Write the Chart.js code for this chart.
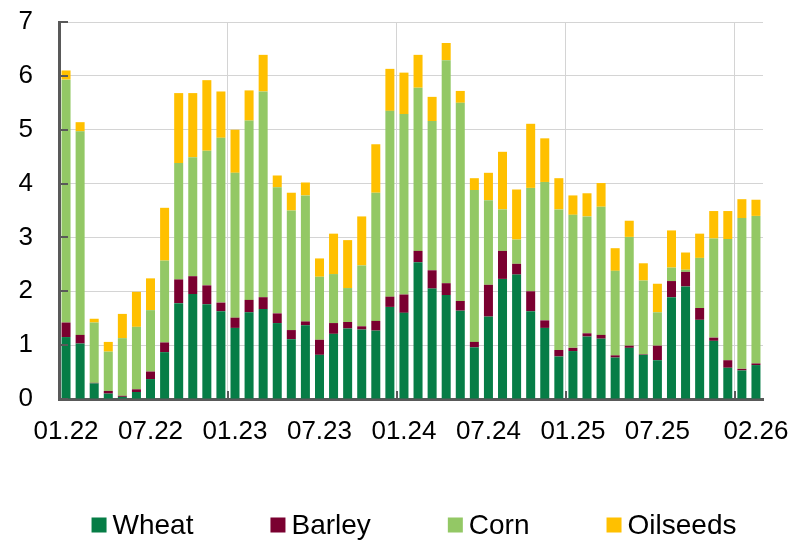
<!DOCTYPE html>
<html>
<head>
<meta charset="utf-8">
<script src="https://cdn.jsdelivr.net/npm/chart.js@4/dist/chart.umd.min.js"></script>
<style>
html,body{margin:0;padding:0;background:#ffffff;}
#wrap{width:794px;height:540px;position:relative;}
</style>
</head>
<body>
<div id="wrap"><canvas id="c" width="794" height="540"></canvas></div>
<script>
// ---- Data ----
const categories = [
  '01.22','02.22','03.22','04.22','05.22','06.22','07.22','08.22','09.22','10.22','11.22','12.22',
  '01.23','02.23','03.23','04.23','05.23','06.23','07.23','08.23','09.23','10.23','11.23','12.23',
  '01.24','02.24','03.24','04.24','05.24','06.24','07.24','08.24','09.24','10.24','11.24','12.24',
  '01.25','02.25','03.25','04.25','05.25','06.25','07.25','08.25','09.25','10.25','11.25','12.25',
  '01.26','02.26'
];
const tickLabels = ['01.22','07.22','01.23','07.23','01.24','07.24','01.25','07.25','02.26'];

const wheat = [
  1.15,1.03,0.29,0.10,0.04,0.13,0.37,0.87,1.78,1.95,1.76,1.63,
  1.32,1.61,1.67,1.41,1.11,1.37,0.82,1.21,1.31,1.29,1.27,1.71,
  1.60,2.54,2.05,1.93,1.64,0.96,1.53,2.23,2.31,1.63,1.32,0.79,
  0.89,1.16,1.12,0.77,0.95,0.82,0.72,1.89,2.09,1.47,1.08,0.58,
  0.53,0.63
];
const barley = [
  0.27,0.16,0.01,0.05,0.02,0.05,0.14,0.18,0.44,0.33,0.35,0.16,
  0.19,0.23,0.22,0.18,0.17,0.07,0.28,0.20,0.12,0.06,0.18,0.19,
  0.34,0.21,0.34,0.22,0.18,0.10,0.59,0.52,0.20,0.37,0.14,0.12,
  0.06,0.06,0.07,0.04,0.04,0.01,0.27,0.30,0.27,0.22,0.06,0.14,
  0.03,0.03
];
const corn = [
  4.51,3.78,1.12,0.73,1.07,1.16,1.14,1.52,2.16,2.21,2.50,3.06,
  2.69,3.33,3.82,2.34,2.22,2.34,1.17,0.91,0.63,1.13,2.38,3.45,
  3.35,3.03,2.77,4.14,3.68,2.82,1.57,0.77,0.45,1.92,2.57,2.61,
  2.47,2.17,2.38,1.57,2.02,1.37,0.62,0.25,0.04,0.93,1.84,2.25,
  2.80,2.74
];
const oilseeds = [
  0.17,0.17,0.07,0.18,0.45,0.65,0.59,0.98,1.30,1.19,1.31,0.86,
  0.80,0.56,0.68,0.22,0.33,0.24,0.34,0.75,0.89,0.91,0.90,0.78,
  0.77,0.61,0.45,0.32,0.22,0.22,0.51,1.07,0.93,1.19,0.81,0.58,
  0.36,0.43,0.44,0.42,0.30,0.32,0.53,0.69,0.32,0.45,0.51,0.52,
  0.35,0.30
];

const seriesNames = ['Wheat','Barley','Corn','Oilseeds'];
const seriesColors = ['#067D46','#7A0030','#93C865','#FFC000'];
const FONT = '"Liberation Sans", Arial, sans-serif';

const decor = {
  id: 'decor',
  afterDraw(chart) {
    const {ctx, chartArea, scales} = chart;
    const x = scales.x, y = scales.y;
    ctx.save();
    // inward tick marks on the y axis
    ctx.strokeStyle = '#595959';
    ctx.lineWidth = 2;
    y.ticks.forEach(t => {
      const py = Math.round(y.getPixelForValue(t.value));
      ctx.beginPath();
      ctx.moveTo(chartArea.left, py);
      ctx.lineTo(chartArea.left + 9, py);
      ctx.stroke();
    });
    // small tick marks at year boundaries on the x axis
    const half = (x.getPixelForTick(1) - x.getPixelForTick(0)) / 2;
    categories.forEach((c, i) => {
      if (i > 0 && i % 12 === 0) {
        const px = Math.round(x.getPixelForTick(i) - half);
        ctx.beginPath();
        ctx.moveTo(px, chartArea.bottom);
        ctx.lineTo(px, chartArea.bottom - 8);
        ctx.stroke();
      }
    });
    // legend
    ctx.font = '28px ' + FONT;
    ctx.textBaseline = 'middle';
    ctx.textAlign = 'left';
    const box = 15, gap = 6, sp = 77;
    const items = chart.data.datasets.map(d => ({label: d.label, color: d.backgroundColor, w: ctx.measureText(d.label).width}));
    const total = items.reduce((s, it) => s + box + gap + it.w, 0) + sp * (items.length - 1);
    let cx = (chartArea.left + chartArea.right) / 2 + 3 - total / 2;
    const cy = chart.height - 15;
    items.forEach(it => {
      ctx.fillStyle = it.color;
      ctx.fillRect(cx, cy - box / 2, box, box);
      ctx.fillStyle = '#000';
      ctx.fillText(it.label, cx + box + gap, cy + 1);
      cx += box + gap + it.w + sp;
    });
    ctx.restore();
  }
};

const seriesData = [wheat, barley, corn, oilseeds];
const datasets = seriesNames.map((name, k) => ({
  label: name,
  data: seriesData[k],
  backgroundColor: seriesColors[k],
  borderWidth: 0,
  barPercentage: 0.64,
  categoryPercentage: 1.0
}));

new Chart(document.getElementById('c'), {
  type: 'bar',
  data: { labels: categories, datasets: datasets },
  options: {
    responsive: false,
    animation: false,
    devicePixelRatio: 1,
    layout: { padding: { left: 18, right: 31, top: 22, bottom: 93 } },
    plugins: {
      legend: { display: false },
      tooltip: { enabled: false }
    },
    scales: {
      x: {
        stacked: true,
        offset: true,
        afterFit: s => { s.height = 48; s.paddingLeft = 0; s.paddingRight = 0; },
        grid: {
          offset: true,
          drawTicks: false,
          lineWidth: 1,
          color: c => (c.index > 0 && c.index % 12 === 0) ? '#d4d4d4' : 'rgba(0,0,0,0)'
        },
        border: { display: true, color: '#595959', width: 3 },
        ticks: {
          autoSkip: false,
          maxRotation: 0,
          minRotation: 0,
          padding: 17,
          color: '#000',
          font: { family: FONT, size: 26 },
          callback: function(v, i) { const l = categories[i]; return tickLabels.includes(l) ? l : ''; }
        }
      },
      y: {
        stacked: true,
        min: 0,
        max: 7,
        afterFit: s => { s.width = 41; s.paddingTop = 0; s.paddingBottom = 0; },
        grid: { drawTicks: false, color: '#d4d4d4', lineWidth: 1 },
        border: { display: true, color: '#595959', width: 3 },
        ticks: {
          stepSize: 1,
          padding: 26,
          color: '#000',
          font: { family: FONT, size: 26 }
        }
      }
    }
  },
  plugins: [decor]
});
</script>
</body>
</html>
